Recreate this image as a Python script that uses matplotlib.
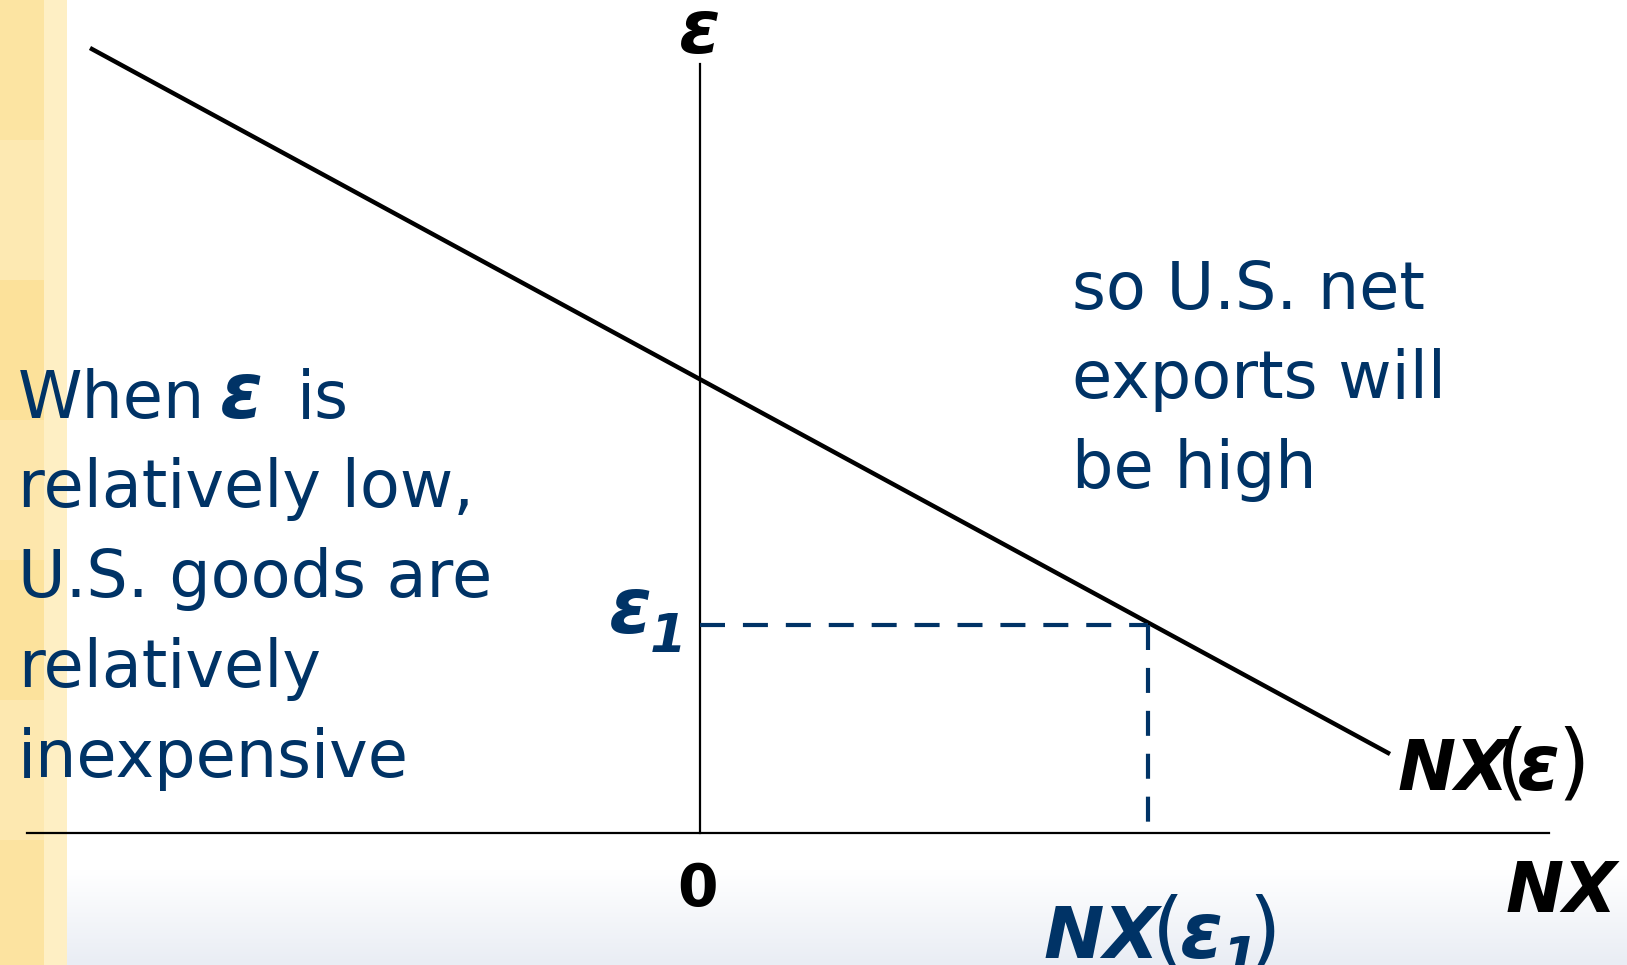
import numpy as np
import matplotlib
matplotlib.use('Agg')
import matplotlib.pyplot as plt
from matplotlib.patches import Rectangle
from matplotlib.colors import LinearSegmentedColormap

navy = '#003366'

# NX(eps) schedule: end points (x = NX, y = real exchange rate)
nx_curve = [-6.10, 6.90]
eps_curve = [7.85, 0.79]

# marked point on the schedule
eps1 = 2.08
nx_eps1 = 4.48

# axis extents
x_axis = [-6.73, 8.49]
y_axis = [0.0, 7.69]

left_lines = ['relatively low,', 'U.S. goods are', 'relatively', 'inexpensive']
right_lines = ['so U.S. net', 'exports will', 'be high']

fig = plt.figure(figsize=(16.27, 9.65), dpi=100)

# background: yellow strip on the left, faint grey fade at the bottom
bg = fig.add_axes([0, 0, 1, 1])
bg.set_xlim(0, 1627)
bg.set_ylim(965, 0)
bg.axis('off')
fade = LinearSegmentedColormap.from_list('fade', ['#ffffff', '#e9edf4'])
bg.imshow(np.linspace(0, 1, 100).reshape(-1, 1), cmap=fade, aspect='auto',
          extent=[0, 1627, 965, 870])
bg.add_patch(Rectangle((0, 0), 67, 965, color='#feefc4', lw=0))
shades = ['#fce4a2', '#fde9b2', '#fce19a', '#fde6ab', '#fce29c', '#fde8b0', '#fce3a0']
for i, c in enumerate(shades):
    bg.add_patch(Rectangle((0, i * 140), 44, 140, color=c, lw=0))

ax = fig.add_axes([0, 0, 1, 1])
ax.patch.set_visible(False)
ax.set_xlim(-7.0, 9.27)
ax.set_ylim(-1.32, 8.33)
ax.axis('off')

# axes
ax.plot(x_axis, [0, 0], color='black', lw=1.6)
ax.plot([0, 0], y_axis, color='black', lw=1.6)

# NX curve
ax.plot(nx_curve, eps_curve, color='black', lw=3.2, solid_capstyle='butt')

# dashed guides
ax.plot([0, nx_eps1], [eps1, eps1], color=navy, lw=3, dashes=(6, 4.3))
ax.plot([nx_eps1, nx_eps1], [eps1, 0], color=navy, lw=3, dashes=(6, 4.3))

bi = dict(fontweight='bold', fontstyle='italic', family='DejaVu Sans',
          ha='left', va='baseline')
paren = dict(family='DejaVu Sans', ha='left', va='baseline')
body = dict(fontsize=47, color=navy, family='DejaVu Sans', va='baseline')

# axis labels
ax.text(-0.21, 7.80, 'ε', fontsize=54, color='black', **bi)
ax.text(-0.02, -0.73, '0', fontsize=42, fontweight='bold', color='black',
        ha='center', va='baseline', family='DejaVu Sans')
ax.text(8.06, -0.79, 'NX', fontsize=50, color='black', **bi)

# curve label NX(ε)
ax.text(6.98, 0.43, 'NX', fontsize=50, color='black', **bi)
ax.text(7.96, 0.43, '(', fontsize=60, color='black', **paren)
ax.text(8.17, 0.43, 'ε', fontsize=56, color='black', **bi)
ax.text(8.57, 0.43, ')', fontsize=60, color='black', **paren)

# ε1 label
ax.text(-0.91, 2.00, 'ε', fontsize=56, color=navy, **bi)
ax.text(-0.50, 1.81, '1', fontsize=38, color=navy, **bi)

# NX(ε1) label
ax.text(3.43, -1.25, 'NX', fontsize=52, color=navy, **bi)
ax.text(4.52, -1.25, '(', fontsize=60, color=navy, **paren)
ax.text(4.80, -1.25, 'ε', fontsize=56, color=navy, **bi)
ax.text(5.22, -1.42, '1', fontsize=38, color=navy, **bi)
ax.text(5.48, -1.25, ')', fontsize=60, color=navy, **paren)

# left annotation
ax.text(-6.82, 4.15, 'When', **body)
ax.text(-4.80, 4.15, 'ε', fontsize=56, color=navy, **bi)
ax.text(-4.03, 4.15, 'is', **body)
for i, line in enumerate(left_lines):
    ax.text(-6.82, 3.26 - 0.90 * i, line, **body)

# right annotation
for i, line in enumerate(right_lines):
    ax.text(3.72, 5.24 - 0.895 * i, line, **body)

fig.savefig('out.png', dpi=100)
